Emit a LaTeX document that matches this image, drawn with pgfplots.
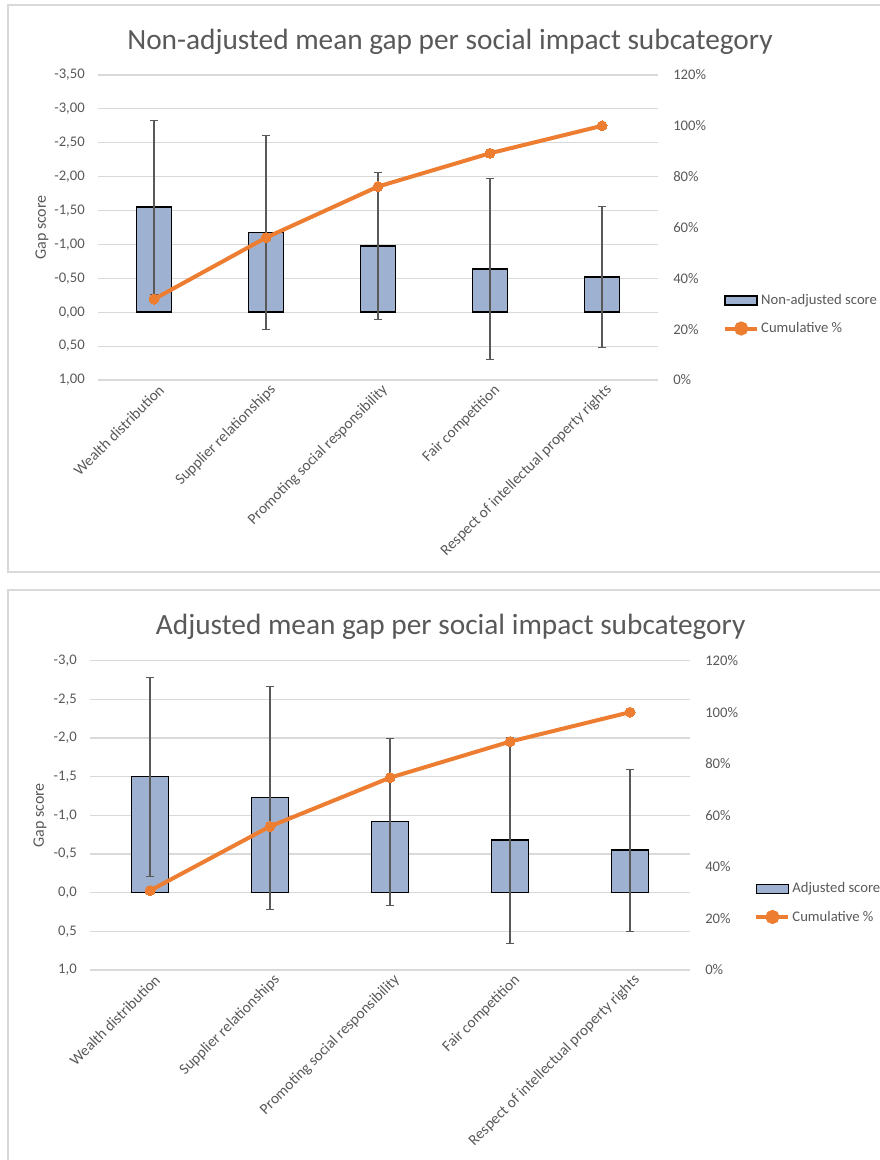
\documentclass[border=0pt]{standalone}
\usepackage{fontspec}
\setmainfont{Carlito}
\usepackage{pgfplots}
\pgfplotsset{compat=1.18}
\usepackage{pgfplotstable}

\definecolor{txt}{HTML}{595959}
\definecolor{gridc}{HTML}{D9D9D9}
\definecolor{barfill}{HTML}{9FB1D0}
\definecolor{cumline}{HTML}{ED7D31}
\definecolor{errc}{HTML}{595959}
\definecolor{framec}{HTML}{D9D9D9}

% non-adjusted scores, error (+/-), cumulative %
\pgfplotstableread{
x y err cum
0 -1.55 1.28 31.8
1 -1.18 1.43 56.0
2 -0.98 1.08 76.1
3 -0.64 1.34 89.2
4 -0.52 1.04 100
}\nonadj

% adjusted scores
\pgfplotstableread{
x y err cum
0 -1.50 1.29 30.8
1 -1.23 1.44 55.7
2 -0.92 1.08 74.6
3 -0.68 1.33 88.6
4 -0.55 1.05 100
}\adj

\pgfplotsset{
  common/.style={
    scale only axis,
    xmin=-0.5, xmax=4.5,
    axis line style={draw=none},
    major tick length=0pt,
    tick label style={font=\fontsize{11}{13}\selectfont, text=txt},
    /pgf/number format/assume math mode=true,
  },
  leftax/.style={
    common,
    y dir=reverse,
    ymajorgrids,
    grid style={gridc, line width=0.9pt},
    xtick={0,1,2,3,4},
    xticklabels={Wealth distribution, Supplier relationships, Promoting social responsibility, Fair competition, Respect of intellectual property rights},
    xticklabel style={rotate=45, anchor=east, inner sep=0pt, yshift=-8pt, font=\fontsize{11.5}{13}\selectfont},
    yticklabel style={inner sep=0pt, xshift=-9.75pt},
    ylabel={Gap score},
    ylabel style={font=\fontsize{12}{14}\selectfont, text=txt},
    legend cell align=left,
    legend style={draw=none, fill=none, anchor=west, inner sep=0pt,
      font=\fontsize{11}{13}\selectfont, text=txt, row sep=9pt,
      nodes={inner sep=1.5pt}},
  },
  rightax/.style={
    common,
    ymin=0, ymax=120,
    axis y line*=right,
    axis x line=none,
    ytick={0,20,40,60,80,100,120},
    yticklabel={\pgfmathprintnumber{\tick}\%},
    yticklabel style={inner sep=0pt, xshift=11.25pt, anchor=west},
  },
  barplot/.style={
    ybar, bar width=0.31, fill=barfill, draw=black, line width=1.1pt,
    legend image code/.code={\draw[draw=black, fill=barfill, line width=1.1pt] (0pt,-3.4pt) rectangle (24pt,3.4pt);},
    error bars/.cd, y dir=both, y explicit,
    error bar style={errc, line width=1pt, mark size=3pt},
  },
  cumplot/.style={
    cumline, line width=3pt, mark=*, mark size=3.75pt,
    mark options={fill=cumline, draw=cumline, line width=0pt},
  },
  cumlegend/.style={
    cumline, line width=3pt,
    legend image code/.code={\draw[cumline, line width=3pt] (0pt,0pt) -- (24pt,0pt); \fill[cumline] (12pt,0pt) circle (3.75pt);},
  },
}

\begin{document}
\begin{tikzpicture}[x=1pt,y=1pt]
\path[use as bounding box] (0,0) rectangle (660,870);
\draw[framec, line width=0.9pt] (6,441) rectangle (700,866.25);
\draw[framec, line width=0.9pt] (6,-30) rectangle (700,427.5);
\node[font=\fontsize{22}{26}\selectfont, text=txt] at (337.5,838.5) {Non-adjusted mean gap per social impact subcategory};
\node[font=\fontsize{22}{26}\selectfont, text=txt] at (338,399.75) {Adjusted mean gap per social impact subcategory};

% top chart
\begin{axis}[leftax, at={(73.5pt,585pt)}, anchor=south west, width=420pt, height=228.75pt,
  ymin=-3.5, ymax=1, ytick={-3.5,-3,-2.5,-2,-1.5,-1,-0.5,0,0.5,1},
  yticklabel style={/pgf/number format/.cd, fixed, fixed zerofill, precision=2, use comma},
  ylabel style={at={(axis description cs:-0.1,0.5)}, anchor=center},
  legend style={at={(axis description cs:1.116,0.215)}}]
\addplot[barplot] table[x=x, y=y, y error=err]{\nonadj};
\addlegendentry{Non-adjusted score}
\addlegendimage{cumlegend}
\addlegendentry{Cumulative \%}
\end{axis}
\begin{axis}[rightax, at={(73.5pt,585pt)}, anchor=south west, width=420pt, height=228.75pt]
\addplot[cumplot] table[x=x, y=cum]{\nonadj};
\end{axis}

% bottom chart
\begin{axis}[leftax, at={(67.5pt,142.5pt)}, anchor=south west, width=450pt, height=232pt,
  ymin=-3, ymax=1, ytick={-3,-2.5,-2,-1.5,-1,-0.5,0,0.5,1},
  yticklabel style={/pgf/number format/.cd, fixed, fixed zerofill, precision=1, use comma},
  ylabel style={at={(axis description cs:-0.0833,0.5)}, anchor=center},
  legend style={at={(axis description cs:1.107,0.217)}}]
\addplot[barplot] table[x=x, y=y, y error=err]{\adj};
\addlegendentry{Adjusted score}
\addlegendimage{cumlegend}
\addlegendentry{Cumulative \%}
\end{axis}
\begin{axis}[rightax, at={(67.5pt,142.5pt)}, anchor=south west, width=450pt, height=232pt]
\addplot[cumplot] table[x=x, y=cum]{\adj};
\end{axis}
\end{tikzpicture}
\end{document}
